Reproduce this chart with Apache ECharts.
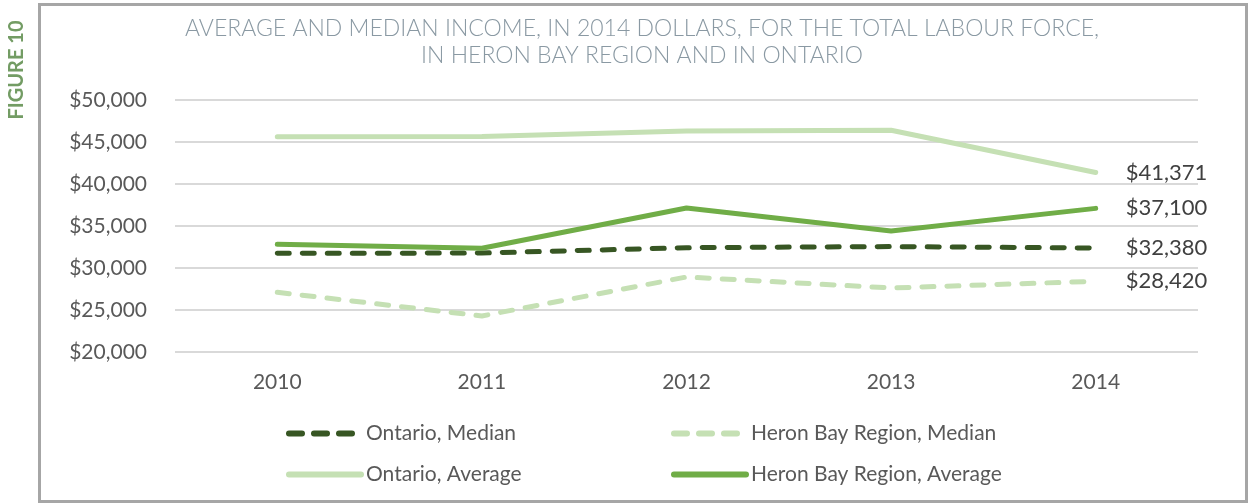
<!DOCTYPE html>
<html><head><meta charset="utf-8">
<script src="https://cdn.jsdelivr.net/npm/echarts@6/dist/echarts.min.js"></script>
<style>html,body{margin:0;padding:0;background:#fff}#c{width:1250px;height:504px}</style>
</head><body><div id="c"></div>
<script>
const years = ['2010','2011','2012','2013','2014'];
const ontarioMedian = [31750, 31780, 32420, 32550, 32380];
const heronMedian = [27110, 24290, 28930, 27620, 28420];
const ontarioAverage = [45630, 45650, 46300, 46400, 41371];
const heronAverage = [32820, 32350, 37140, 34400, 37100];
const yTicks = [20000, 25000, 30000, 35000, 40000, 45000, 50000];

const FONT = 'Lato';
const fmt = v => '$' + v.toLocaleString('en-US');

function mk(name, data, color, dashed) {
  return {
    name, type: 'line', data, symbol: 'none', showSymbol: false,
    lineStyle: { color, width: 5, type: dashed ? [12, 13] : 'solid', cap: 'round', join: 'round' },
    itemStyle: { color },
    emphasis: { disabled: true },
    endLabel: { show: true, distance: 30, formatter: p => fmt(p.value),
      fontFamily: FONT, fontSize: 22, color: '#404040' }
  };
}
const legText = { fontFamily: FONT, fontSize: 21, color: '#595959' };
const dashLeg = { width: 6, cap: 'round', type: [13, 12] };
const solidLeg = { width: 6, cap: 'round', type: 'solid' };

const chart = echarts.init(document.getElementById('c'));
chart.setOption({
  animation: false,
  graphic: [
    { type: 'rect', shape: { x: 39.5, y: 4.5, width: 1207, height: 497 }, style: { fill: 'none', stroke: '#a6a6a6', lineWidth: 3 } },
    { type: 'text', x: 17, y: 70, rotation: Math.PI / 2, style: { text: 'FIGURE 10', fill: '#739c64', font: 'bold 20px ' + FONT, align: 'center', verticalAlign: 'middle' } },
    { type: 'text', x: 642, y: 15, style: { text: 'AVERAGE AND MEDIAN INCOME, IN 2014 DOLLARS, FOR THE TOTAL LABOUR FORCE,\nIN HERON BAY REGION AND IN ONTARIO', fill: '#8a99a3', font: '300 23px ' + FONT, align: 'center', lineHeight: 27 } }
  ],
  grid: { left: 175, right: 52, top: 100, bottom: 152 },
  xAxis: {
    type: 'category', data: years, boundaryGap: true,
    axisLine: { show: false }, axisTick: { show: false },
    axisLabel: { fontFamily: FONT, fontSize: 21, color: '#595959', margin: 20 }
  },
  yAxis: {
    type: 'value', min: yTicks[0], max: yTicks[yTicks.length - 1], interval: 5000,
    axisLine: { show: false }, axisTick: { show: false },
    axisLabel: { fontFamily: FONT, fontSize: 21, color: '#595959', margin: 28, formatter: v => fmt(v) },
    splitLine: { lineStyle: { color: '#d9d9d9', width: 2 } }
  },
  legend: [
    { data: [{ name: 'Ontario, Median', lineStyle: dashLeg }, { name: 'Ontario, Average', lineStyle: solidLeg }],
      orient: 'vertical', left: 281, top: 418, itemGap: 20, itemWidth: 72, itemHeight: 20,
      itemStyle: { opacity: 0 }, textStyle: legText, selectedMode: false },
    { data: [{ name: 'Heron Bay Region, Median', lineStyle: dashLeg }, { name: 'Heron Bay Region, Average', lineStyle: solidLeg }],
      orient: 'vertical', left: 666, top: 418, itemGap: 20, itemWidth: 72, itemHeight: 20,
      itemStyle: { opacity: 0 }, textStyle: legText, selectedMode: false }
  ],
  series: [
    mk('Ontario, Median', ontarioMedian, '#375623', true),
    mk('Heron Bay Region, Median', heronMedian, '#c5e0b4', true),
    mk('Ontario, Average', ontarioAverage, '#c5e0b4', false),
    mk('Heron Bay Region, Average', heronAverage, '#70ad47', false)
  ]
});
</script></body></html>
